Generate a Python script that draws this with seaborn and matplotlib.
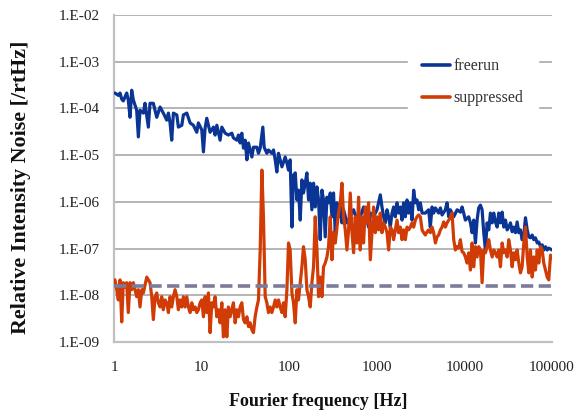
import numpy as np
import pandas as pd
import matplotlib
matplotlib.use("Agg")
import matplotlib.pyplot as plt
import seaborn as sns
from matplotlib.ticker import FixedLocator, FixedFormatter, NullLocator
from matplotlib.lines import Line2D

# ---------------- data (log10 units) ----------------
series_names = ["freerun", "suppressed"]

freerun_log10_freq = [
    0.011, 0.049, 0.069, 0.088, 0.106, 0.145, 0.163, 0.183, 0.202, 0.221,
    0.259, 0.278, 0.297, 0.335, 0.354, 0.392, 0.411, 0.449, 0.488, 0.526,
    0.563, 0.602, 0.621, 0.640, 0.659, 0.678, 0.717, 0.735, 0.774, 0.792,
    0.831, 0.869, 0.906, 0.945, 0.963, 1.002, 1.021, 1.040, 1.059, 1.097,
    1.135, 1.154, 1.174, 1.211, 1.231, 1.269, 1.306, 1.345, 1.363, 1.402,
    1.421, 1.440, 1.459, 1.478, 1.497, 1.517, 1.535, 1.574, 1.592, 1.631,
    1.649, 1.669, 1.699, 1.714, 1.745, 1.763, 1.802, 1.821, 1.840, 1.859,
    1.878, 1.917, 1.954, 1.974, 1.992, 2.011, 2.031, 2.049, 2.069, 2.088,
    2.106, 2.126, 2.145, 2.163, 2.183, 2.202, 2.221, 2.240, 2.259, 2.278,
    2.297, 2.317, 2.335, 2.354, 2.374, 2.392, 2.411, 2.431, 2.449, 2.469,
    2.488, 2.506, 2.526, 2.545, 2.563, 2.583, 2.602, 2.621, 2.659, 2.697,
    2.735, 2.774, 2.811, 2.849, 2.888, 2.906, 2.926, 2.963, 3.002, 3.040,
    3.059, 3.078, 3.097, 3.117, 3.135, 3.154, 3.174, 3.192, 3.211, 3.231,
    3.249, 3.269, 3.288, 3.306, 3.326, 3.345, 3.363, 3.383, 3.402, 3.421,
    3.440, 3.459, 3.478, 3.497, 3.517, 3.554, 3.592, 3.611, 3.631, 3.649,
    3.669, 3.706, 3.726, 3.745, 3.783, 3.802, 3.821, 3.840, 3.878, 3.917,
    3.954, 3.974, 3.992, 4.011, 4.049, 4.069, 4.088, 4.106, 4.126, 4.145,
    4.163, 4.183, 4.202, 4.221, 4.240, 4.259, 4.278, 4.297, 4.317, 4.335,
    4.354, 4.374, 4.392, 4.411, 4.431, 4.449, 4.469, 4.488, 4.506, 4.526,
    4.545, 4.563, 4.583, 4.602, 4.621, 4.640, 4.659, 4.678, 4.697, 4.717,
    4.735, 4.754, 4.774, 4.792, 4.811, 4.831, 4.849, 4.869, 4.888, 4.906,
    4.926, 4.945, 4.963, 5.000,
]
freerun_log10_rin = [
    -3.67, -3.72, -3.67, -3.80, -3.84, -3.67, -3.82, -4.19, -3.61, -3.82,
    -4.04, -4.61, -4.04, -4.10, -3.89, -4.40, -3.89, -3.89, -4.19, -3.97,
    -4.10, -4.25, -4.10, -4.31, -4.68, -4.10, -4.14, -4.40, -4.36, -4.14,
    -4.10, -4.31, -4.36, -4.51, -4.31, -4.46, -4.93, -4.42, -4.21, -4.51,
    -4.40, -4.57, -4.36, -4.68, -4.40, -4.53, -4.57, -4.53, -4.63, -4.68,
    -4.57, -4.74, -4.53, -4.85, -4.68, -5.10, -4.74, -5.04, -4.83, -4.83,
    -4.96, -4.85, -4.40, -4.83, -4.96, -4.89, -4.96, -4.89, -5.10, -5.36,
    -4.96, -5.25, -5.04, -5.17, -5.32, -5.10, -6.54, -5.43, -5.38, -5.96,
    -5.75, -6.39, -5.53, -5.81, -5.60, -5.38, -5.96, -5.60, -6.17, -5.60,
    -6.11, -5.68, -5.96, -6.81, -5.75, -5.96, -6.75, -5.90, -6.02, -5.81,
    -6.32, -5.81, -6.66, -6.02, -6.32, -6.11, -6.45, -6.17, -6.45, -6.32,
    -6.17, -6.39, -6.32, -6.11, -6.39, -6.54, -6.24, -6.32, -6.17, -5.85,
    -6.11, -6.32, -6.45, -6.17, -6.32, -6.54, -6.24, -6.11, -6.32, -6.02,
    -6.24, -6.11, -6.39, -6.02, -6.32, -5.96, -6.24, -6.02, -6.39, -5.75,
    -6.02, -5.96, -6.17, -6.02, -6.24, -6.24, -6.17, -6.54, -6.11, -6.24,
    -6.13, -6.24, -6.13, -6.28, -6.17, -6.02, -6.32, -6.17, -6.32, -6.17,
    -6.22, -6.11, -6.24, -6.39, -6.32, -6.45, -6.66, -6.39, -6.88, -6.39,
    -6.13, -6.07, -6.17, -6.66, -7.03, -6.45, -6.60, -6.24, -6.45, -6.24,
    -6.43, -6.54, -6.24, -6.45, -6.22, -6.54, -6.39, -6.60, -6.54, -6.45,
    -6.64, -6.54, -6.66, -6.43, -6.66, -6.60, -6.81, -6.71, -6.34, -6.60,
    -6.75, -6.77, -6.71, -6.81, -6.77, -6.88, -6.86, -6.96, -6.92, -7.03,
    -6.96, -7.03, -6.99, -7.03,
]

suppressed_log10_freq = [
    0.011, 0.031, 0.049, 0.069, 0.088, 0.106, 0.126, 0.145, 0.163, 0.183,
    0.202, 0.221, 0.259, 0.278, 0.297, 0.317, 0.335, 0.374, 0.411, 0.431,
    0.449, 0.469, 0.488, 0.506, 0.526, 0.545, 0.563, 0.583, 0.602, 0.621,
    0.640, 0.659, 0.678, 0.697, 0.717, 0.735, 0.754, 0.774, 0.792, 0.811,
    0.831, 0.849, 0.869, 0.888, 0.906, 0.926, 0.945, 0.963, 0.983, 1.002,
    1.021, 1.040, 1.059, 1.078, 1.097, 1.117, 1.135, 1.154, 1.174, 1.192,
    1.211, 1.231, 1.249, 1.269, 1.288, 1.306, 1.326, 1.345, 1.363, 1.383,
    1.402, 1.421, 1.440, 1.459, 1.478, 1.497, 1.517, 1.535, 1.554, 1.574,
    1.592, 1.611, 1.631, 1.649, 1.669, 1.688, 1.706, 1.726, 1.745, 1.763,
    1.783, 1.802, 1.821, 1.840, 1.859, 1.878, 1.897, 1.917, 1.935, 1.954,
    1.974, 1.992, 2.011, 2.031, 2.049, 2.069, 2.088, 2.106, 2.126, 2.145,
    2.163, 2.183, 2.202, 2.221, 2.240, 2.259, 2.278, 2.297, 2.317, 2.335,
    2.354, 2.374, 2.392, 2.411, 2.431, 2.449, 2.469, 2.488, 2.506, 2.526,
    2.545, 2.563, 2.583, 2.602, 2.621, 2.640, 2.659, 2.678, 2.697, 2.717,
    2.735, 2.754, 2.774, 2.792, 2.811, 2.831, 2.849, 2.869, 2.888, 2.906,
    2.926, 2.945, 2.963, 2.983, 3.002, 3.021, 3.040, 3.059, 3.078, 3.097,
    3.117, 3.135, 3.154, 3.174, 3.192, 3.211, 3.231, 3.249, 3.269, 3.288,
    3.306, 3.326, 3.345, 3.363, 3.383, 3.402, 3.421, 3.440, 3.459, 3.478,
    3.497, 3.517, 3.535, 3.554, 3.574, 3.592, 3.611, 3.631, 3.649, 3.669,
    3.688, 3.706, 3.726, 3.745, 3.763, 3.783, 3.802, 3.821, 3.840, 3.859,
    3.878, 3.897, 3.917, 3.935, 3.954, 3.974, 3.992, 4.011, 4.031, 4.049,
    4.069, 4.088, 4.106, 4.126, 4.145, 4.163, 4.183, 4.202, 4.221, 4.240,
    4.259, 4.278, 4.297, 4.317, 4.335, 4.354, 4.374, 4.392, 4.411, 4.431,
    4.449, 4.469, 4.488, 4.506, 4.526, 4.545, 4.563, 4.583, 4.602, 4.621,
    4.640, 4.659, 4.678, 4.697, 4.717, 4.735, 4.754, 4.774, 4.792, 4.811,
    4.831, 4.849, 4.869, 4.888, 4.906, 4.926, 4.945, 4.963, 4.983, 5.000,
]
suppressed_log10_rin = [
    -7.67, -7.88, -8.10, -7.67, -8.57, -7.73, -7.82, -7.73, -8.37, -7.73,
    -7.88, -7.73, -8.03, -7.88, -8.25, -7.88, -7.95, -7.61, -7.73, -8.03,
    -8.52, -8.03, -7.95, -8.16, -8.25, -8.03, -8.31, -8.10, -8.16, -8.37,
    -8.03, -8.25, -8.03, -7.88, -8.03, -8.31, -8.10, -8.25, -8.03, -8.25,
    -8.03, -8.25, -8.37, -8.16, -8.31, -8.25, -8.37, -8.31, -8.16, -8.10,
    -8.46, -8.03, -8.37, -7.95, -8.80, -8.16, -8.25, -8.03, -8.46, -8.31,
    -8.59, -8.16, -8.89, -8.31, -8.89, -8.25, -8.46, -8.31, -8.16, -8.59,
    -8.31, -8.46, -8.25, -8.16, -8.52, -8.59, -8.46, -8.67, -8.59, -8.74,
    -8.80, -8.46, -8.25, -8.10, -7.03, -5.32, -6.32, -8.03, -8.16, -8.37,
    -8.25, -8.37, -8.25, -8.10, -8.25, -8.10, -8.25, -8.37, -8.16, -8.46,
    -7.88, -6.88, -7.03, -7.95, -8.16, -8.59, -7.88, -8.10, -7.73, -7.39,
    -6.96, -7.24, -7.88, -8.03, -8.25, -7.73, -7.39, -6.32, -7.03, -8.03,
    -7.61, -8.03, -7.39, -7.31, -7.18, -6.96, -6.32, -7.24, -6.66, -6.88,
    -6.54, -6.24, -6.02, -5.60, -6.32, -6.60, -7.03, -6.60, -5.81, -6.66,
    -7.09, -6.32, -6.88, -5.90, -7.03, -6.32, -6.88, -6.11, -6.45, -6.02,
    -7.24, -6.66, -6.11, -6.66, -6.32, -6.60, -6.24, -6.66, -6.45, -6.54,
    -6.66, -7.03, -6.54, -6.60, -6.81, -6.60, -6.39, -6.66, -6.54, -6.81,
    -6.60, -6.81, -6.54, -6.60, -6.54, -6.45, -6.54, -6.39, -6.32, -6.28,
    -6.32, -6.60, -6.66, -6.71, -6.64, -6.60, -6.66, -6.54, -6.66, -6.88,
    -6.75, -6.71, -6.60, -6.54, -6.43, -6.54, -6.45, -6.39, -6.34, -6.24,
    -6.81, -7.03, -6.96, -6.99, -6.81, -7.07, -7.09, -7.18, -7.31, -7.09,
    -7.46, -6.88, -7.39, -6.96, -7.18, -6.96, -7.03, -7.73, -7.03, -7.09,
    -6.96, -6.81, -7.03, -7.18, -7.03, -7.09, -7.18, -7.03, -7.39, -6.88,
    -7.09, -7.03, -7.18, -6.81, -7.03, -7.39, -7.09, -7.24, -7.03, -7.31,
    -7.52, -7.39, -6.88, -6.54, -7.18, -7.52, -7.03, -7.61, -7.18, -7.46,
    -7.03, -7.31, -6.96, -7.03, -7.31, -7.46, -7.61, -7.67, -7.14, -7.20,
]

noise_floor = 1.55e-8

x_tick_values = [1, 10, 100, 1000, 10000, 100000]
x_tick_labels = ["1", "10", "100", "1000", "10000", "100000"]
y_tick_values = [1e-9, 1e-8, 1e-7, 1e-6, 1e-5, 1e-4, 1e-3, 1e-2]
y_tick_labels = ["1.E-09", "1.E-08", "1.E-07", "1.E-06",
                 "1.E-05", "1.E-04", "1.E-03", "1.E-02"]

x_label = "Fourier frequency [Hz]"
y_label = "Relative Intensity Noise [/rtHz]"

# ---------------- styling ----------------
colors = {"freerun": "#0a3595", "suppressed": "#d13c06"}
floor_color = "#7b7b9c"

sns.set_theme(style="white")
plt.rcParams["font.family"] = ["Liberation Serif", "DejaVu Serif"]

df = pd.concat([
    pd.DataFrame({"freq": np.power(10.0, freerun_log10_freq),
                  "rin": np.power(10.0, freerun_log10_rin),
                  "series": series_names[0]}),
    pd.DataFrame({"freq": np.power(10.0, suppressed_log10_freq),
                  "rin": np.power(10.0, suppressed_log10_rin),
                  "series": series_names[1]}),
], ignore_index=True)

W, H = 582, 416
fig = plt.figure(figsize=(W / 100, H / 100), dpi=100)
ax = fig.add_axes([114 / W, 1 - 342 / H, 438 / W, 327 / H])
ax.set_xscale("log")
ax.set_yscale("log")

sns.lineplot(data=df, x="freq", y="rin", hue="series",
             hue_order=series_names, palette=colors,
             estimator=None, sort=False, linewidth=2.3,
             legend=False, ax=ax, zorder=3)

ax.axhline(noise_floor, color=floor_color, linewidth=2.6,
           dashes=(3.4, 1.5), zorder=4)

ax.set_xlim(1, 1e5)
ax.set_ylim(1e-9, 1e-2)

ax.xaxis.set_major_locator(FixedLocator(x_tick_values))
ax.xaxis.set_major_formatter(FixedFormatter(x_tick_labels))
ax.xaxis.set_minor_locator(NullLocator())
ax.yaxis.set_major_locator(FixedLocator(y_tick_values))
ax.yaxis.set_major_formatter(FixedFormatter(y_tick_labels))
ax.yaxis.set_minor_locator(NullLocator())

ax.yaxis.grid(True, color="#a8a8a8", linewidth=1.2)
ax.xaxis.grid(False)
ax.set_axisbelow(True)

for s in ["top", "right"]:
    ax.spines[s].set_visible(False)
for s in ["left", "bottom"]:
    ax.spines[s].set_color("#c0c0c0")
    ax.spines[s].set_linewidth(1.6)

ax.tick_params(axis="both", which="major", direction="out", length=5,
               width=1.2, color="#c0c0c0", labelsize=11,
               labelcolor="#222222")
ax.tick_params(axis="x", pad=9)
ax.tick_params(axis="y", pad=5)

ax.set_xlabel("")
ax.set_ylabel("")
fig.text(318 / W, 1 - 402 / H, x_label, ha="center", va="center",
         fontsize=13, fontweight="bold", color="#111111")
fig.text(21 / W, 1 - 187 / H, y_label, ha="center", va="center",
         rotation=90, fontsize=15.8, fontweight="bold", color="#111111")

handles = [Line2D([0], [0], color=colors[n], linewidth=2.6) for n in series_names]
leg = ax.legend(handles, series_names, loc="upper left",
                bbox_to_anchor=(400 / W, 1 - 36 / H),
                bbox_transform=fig.transFigure,
                frameon=True, facecolor="white", edgecolor="white",
                framealpha=1.0, fancybox=False, fontsize=11.5,
                handlelength=1.75, handletextpad=0.2, labelspacing=1.0,
                borderpad=0.9)
for t in leg.get_texts():
    t.set_color("#333333")
leg.set_zorder(5)

fig.savefig("out.png", dpi=100)
